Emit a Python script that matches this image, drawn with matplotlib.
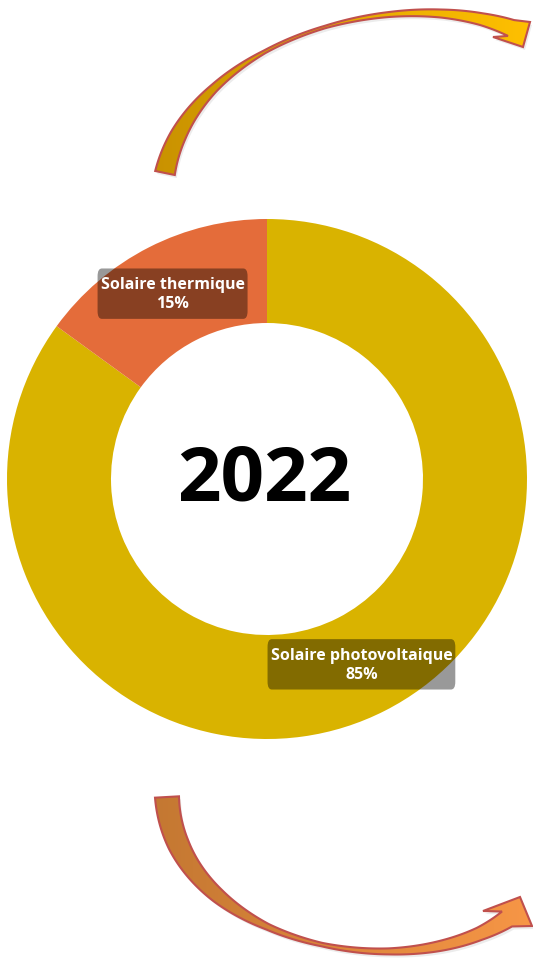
import numpy as np
import matplotlib
matplotlib.use("Agg")
import matplotlib.pyplot as plt
from matplotlib.patches import Polygon, FancyBboxPatch
from matplotlib.colors import LinearSegmentedColormap

# ---- data ----
categories = ["Solaire photovoltaique", "Solaire thermique"]
values = [85, 15]
colors = ["#D9B300", "#E46C3A"]
center_label = "2022"

W, H = 533, 962
fig = plt.figure(figsize=(W / 100, H / 100), dpi=100)
fig.patch.set_facecolor("white")

# ---- donut ----
cx, cy, R = 267, 480, 260
ax = fig.add_axes([(cx - R) / W, (H - cy - R) / H, 2 * R / W, 2 * R / H])
wedges, _ = ax.pie(values, colors=colors, startangle=90, counterclock=False,
                   radius=1, wedgeprops=dict(width=0.4, linewidth=0))
ax.set_xlim(-1, 1)
ax.set_ylim(-1, 1)
ax.set_aspect("equal")
ax.axis("off")

label_font = ["Open Sans", "DejaVu Sans"]
texts = []
for w, name, v in zip(wedges, categories, values):
    ang = np.deg2rad((w.theta1 + w.theta2) / 2)
    x, y = 0.8 * np.cos(ang), 0.8 * np.sin(ang)
    t = ax.text(x, y, f"{name}\n{v}%", ha="center", va="center", color="white",
                fontsize=11.5, fontweight="bold", family=label_font,
                linespacing=1.2, zorder=5)
    texts.append(t)

ax.text(-0.01, -0.005, center_label, ha="center", va="center", fontsize=55,
        fontweight="bold", family=["Open Sans", "DejaVu Sans"], color="black")

# boxes behind the labels
fig.canvas.draw()
r = fig.canvas.get_renderer()
inv = fig.transFigure.inverted()
for t in texts:
    bb = t.get_window_extent(renderer=r)
    px, py = 3, 8
    (x0, y0) = inv.transform((bb.x0 - px, bb.y0 - py))
    (x1, y1) = inv.transform((bb.x1 + px, bb.y1 + py))
    box = FancyBboxPatch((x0, y0), x1 - x0, y1 - y0, transform=fig.transFigure,
                         boxstyle="round,pad=0,rounding_size=0.008",
                         facecolor="black", alpha=0.4, edgecolor="none", zorder=4,
                         clip_on=False)
    ax.add_artist(box)

# ---- decorative arrows ----
ov = fig.add_axes([0, 0, 1, 1])
ov.patch.set_visible(False)
ov.axis("off")


def fit_bezier(pts):
    pts = np.array(pts, float)
    d = np.r_[0, np.cumsum(np.hypot(*np.diff(pts, axis=0).T))]
    t = d / d[-1]
    P0, P3 = pts[0], pts[-1]
    A = np.c_[3 * (1 - t) ** 2 * t, 3 * (1 - t) * t ** 2]
    rhs = pts - np.outer((1 - t) ** 3, P0) - np.outer(t ** 3, P3)
    sol, *_ = np.linalg.lstsq(A, rhs, rcond=None)
    return P0, sol[0], sol[1], P3


def arrow(mid, wt, ww, head, c_tail, c_head):
    P0, P1, P2, P3 = fit_bezier(mid)
    t = np.linspace(0, 1, 300)[:, None]
    c = (1 - t) ** 3 * P0 + 3 * (1 - t) ** 2 * t * P1 + 3 * (1 - t) * t ** 2 * P2 + t ** 3 * P3
    dc = 3 * (1 - t) ** 2 * (P1 - P0) + 6 * (1 - t) * t * (P2 - P1) + 3 * t ** 2 * (P3 - P2)
    dc /= np.hypot(dc[:, 0], dc[:, 1])[:, None]
    n = np.c_[-dc[:, 1], dc[:, 0]]
    w = np.interp(t[:, 0], wt, ww)[:, None] / 2
    upper = c - n * w
    lower = c + n * w
    poly = np.vstack([upper, np.array(head, float), lower[::-1]])
    shadow = Polygon(poly + np.array([2, 3]), closed=True, facecolor="#808080",
                     alpha=0.15, edgecolor="none", zorder=1)
    ov.add_patch(shadow)
    cmap = LinearSegmentedColormap.from_list("g", [c_tail, c_head])
    xmn, xmx = poly[:, 0].min(), poly[:, 0].max()
    ymn, ymx = poly[:, 1].min(), poly[:, 1].max()
    im = ov.imshow(np.linspace(0, 1, 256)[None, :], cmap=cmap, aspect="auto",
                   extent=(xmn, xmx, ymx, ymn), zorder=2, interpolation="bilinear")
    im.set_clip_path(Polygon(poly, closed=True, transform=ov.transData))
    ov.add_patch(Polygon(poly, closed=True, facecolor="none", edgecolor="#C0504D",
                         linewidth=1.5, zorder=3, joinstyle="miter"))


top_mid = [(165, 174), (164, 155), (170, 138), (185, 115), (209, 92), (240, 70),
           (273, 52), (306, 38), (340, 28), (373, 19), (407, 13), (440, 11),
           (470, 13), (496, 22), (511, 29)]
top_wt = [0, 0.1, 0.25, 0.4, 0.55, 0.7, 0.82, 0.92, 1.0]
top_ww = [20, 16, 8, 3, 2.5, 5, 8, 12, 17]
top_head = [(530, 23), (523, 48), (493, 38)]
arrow(top_mid, top_wt, top_ww, top_head, "#C99200", "#FFC000")

bot_mid = [(167, 798), (166, 820), (171, 840), (178, 855), (190, 872), (207, 888),
           (230, 905), (262, 921), (290, 933), (323, 943), (357, 950), (390, 952),
           (423, 951), (457, 946), (480, 937), (498, 927), (507, 920)]
bot_wt = [0, 0.12, 0.28, 0.42, 0.55, 0.7, 0.82, 0.92, 1.0]
bot_ww = [24, 21, 14, 6, 3.5, 6, 10, 13, 18]
bot_head = [(483, 912), (520, 898), (532, 927)]
arrow(bot_mid, bot_wt, bot_ww, bot_head, "#C47832", "#F79646")

ov.set_xlim(0, W)
ov.set_ylim(H, 0)

fig.savefig("out.png", dpi=100, facecolor="white")
